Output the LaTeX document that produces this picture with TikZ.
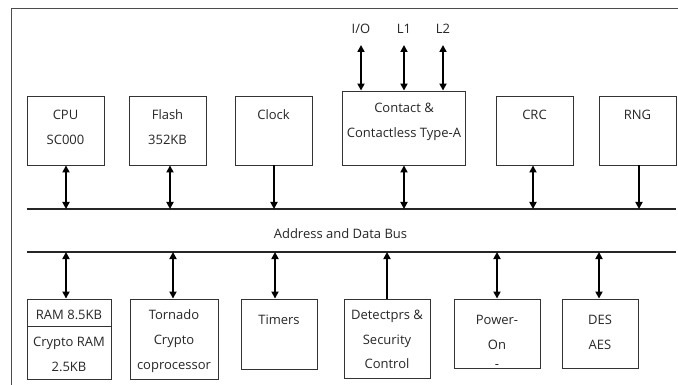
\documentclass[tikz,border=0pt]{standalone}
\usepackage{fontspec}
\setmainfont{Open Sans}
\usetikzlibrary{arrows.meta}
\begin{document}
\begin{tikzpicture}[x=1pt,y=-1pt,
  box/.style={draw=black!80, line width=0.9pt, inner sep=0pt, rectangle},
  txt/.style={font=\fontsize{13}{15}\selectfont, text=black!85, anchor=base, inner sep=0pt},
  conn/.style={line width=1.7pt, black},
  tip/.tip={Triangle[length=7pt,width=7pt]},
  both/.style={conn, tip-tip},
  tobus/.style={conn, -tip},
  frombus/.style={conn, tip-},
  busline/.style={line width=1.1pt, black!85},
  frame/.style={line width=1pt, black!70}
]
\useasboundingbox (0,0) rectangle (678,385);
% frame
\coordinate (frTR) at (678,9);
\coordinate (frTL) at (11,9);
\coordinate (frBL) at (11,385);
\draw[frame] (frTR) -- (frTL) -- (frBL);
% bus
\coordinate (busTL) at (27,209);
\coordinate (busTR) at (676,209);
\coordinate (busBL) at (27,252);
\coordinate (busBR) at (676,252);
\draw[busline] (busTL) -- (busTR);
\draw[busline] (busBL) -- (busBR);
\node[txt] (buslbl) at (340.5,238) {Address and Data Bus};
% top boxes
\node[box, minimum width=77pt, minimum height=69pt] (cpu) at (65.5,130.5) {};
\node[box, minimum width=77pt, minimum height=69pt] (flash) at (167.5,130.5) {};
\node[box, minimum width=77pt, minimum height=69pt] (clock) at (273.5,130.5) {};
\node[box, minimum width=123pt, minimum height=74pt] (contact) at (403.5,128) {};
\node[box, minimum width=77pt, minimum height=69pt] (crc) at (534.5,130.5) {};
\node[box, minimum width=77pt, minimum height=69pt] (rng) at (637.5,130.5) {};
\node[txt] (cpu1) at (65.5,120) {CPU};
\node[txt] (cpu2) at (65.5,145) {SC000};
\node[txt] (flash1) at (167.5,120) {Flash};
\node[txt] (flash2) at (167.5,145) {352KB};
\node[txt] (clock1) at (273.5,120) {Clock};
\node[txt] (contact1) at (404,113) {Contact \&};
\node[txt] (contact2) at (404,138) {Contactless Type-A};
\node[txt] (crc1) at (534.5,120) {CRC};
\node[txt] (rng1) at (637.5,120) {RNG};
% pins
\node[txt] (io) at (361,34) {I/O};
\node[txt] (l1) at (404,34) {L1};
\node[txt] (l2) at (443,34) {L2};
\draw[both] ([yshift=-11pt]io.base) -- (io.base |- contact.north);
\draw[both] ([yshift=-11pt]l1.base) -- (l1.base |- contact.north);
\draw[both] ([yshift=-11pt]l2.base) -- (l2.base |- contact.north);
% top connectors
\draw[both] ([xshift=0.5pt]cpu.south) -- ([xshift=0.5pt]cpu.south |- busTL);
\draw[both] ([xshift=2.5pt]flash.south) -- ([xshift=2.5pt]flash.south |- busTL);
\draw[tobus] ([xshift=0.5pt]clock.south) -- ([xshift=0.5pt]clock.south |- busTL);
\draw[both] ([xshift=0.5pt]contact.south) -- ([xshift=0.5pt]contact.south |- busTL);
\draw[both] ([xshift=-1.5pt]crc.south) -- ([xshift=-1.5pt]crc.south |- busTL);
\draw[tobus] ([xshift=1.5pt]rng.south) -- ([xshift=1.5pt]rng.south |- busTL);
% bottom boxes
\node[box, minimum width=84pt, minimum height=80pt] (ram) at (69,339) {};
\coordinate (ramdiv) at (69,326);
\draw[box] (ram.west |- ramdiv) -- (ram.east |- ramdiv);
\node[box, minimum width=88pt, minimum height=80pt] (tornado) at (174,339) {};
\node[box, minimum width=76pt, minimum height=70pt] (timers) at (279,334) {};
\node[box, minimum width=86pt, minimum height=79pt] (detect) at (387,338.5) {};
\node[box, minimum width=86pt, minimum height=69pt] (power) at (497,333.5) {};
\node[box, minimum width=76pt, minimum height=69pt] (des) at (600,333.5) {};
\node[txt] (ram1) at (69,319) {RAM 8.5KB};
\node[txt] (ram2) at (69,346) {Crypto RAM};
\node[txt] (ram3) at (69,371) {2.5KB};
\node[txt] (tor1) at (174,319) {Tornado};
\node[txt] (tor2) at (174,344) {Crypto};
\node[txt] (tor3) at (174,369) {coprocessor};
\node[txt] (tim1) at (279,324) {Timers};
\node[txt] (det1) at (387,319) {Detectprs \&};
\node[txt] (det2) at (387,344) {Security};
\node[txt] (det3) at (387,368) {Control};
\node[txt] (pow1) at (497,324) {Power-};
\node[txt] (pow2) at (497,349) {On};
\node[txt] (pow3) at (497,368) {-};
\node[txt] (des1) at (600,324) {DES};
\node[txt] (des2) at (600,349) {AES};
% bottom connectors
\draw[both] ([xshift=-3pt]ram.north |- busBL) -- ([xshift=-3pt]ram.north);
\draw[both] ([xshift=-1pt]tornado.north |- busBL) -- ([xshift=-1pt]tornado.north);
\draw[both] ([xshift=-4pt]timers.north |- busBL) -- ([xshift=-4pt]timers.north);
\draw[tobus] (detect.north) -- (detect.north |- busBL);
\draw[both] (power.north |- busBL) -- (power.north);
\draw[both] ([xshift=-1pt]des.north |- busBL) -- ([xshift=-1pt]des.north);
\end{tikzpicture}
\end{document}
